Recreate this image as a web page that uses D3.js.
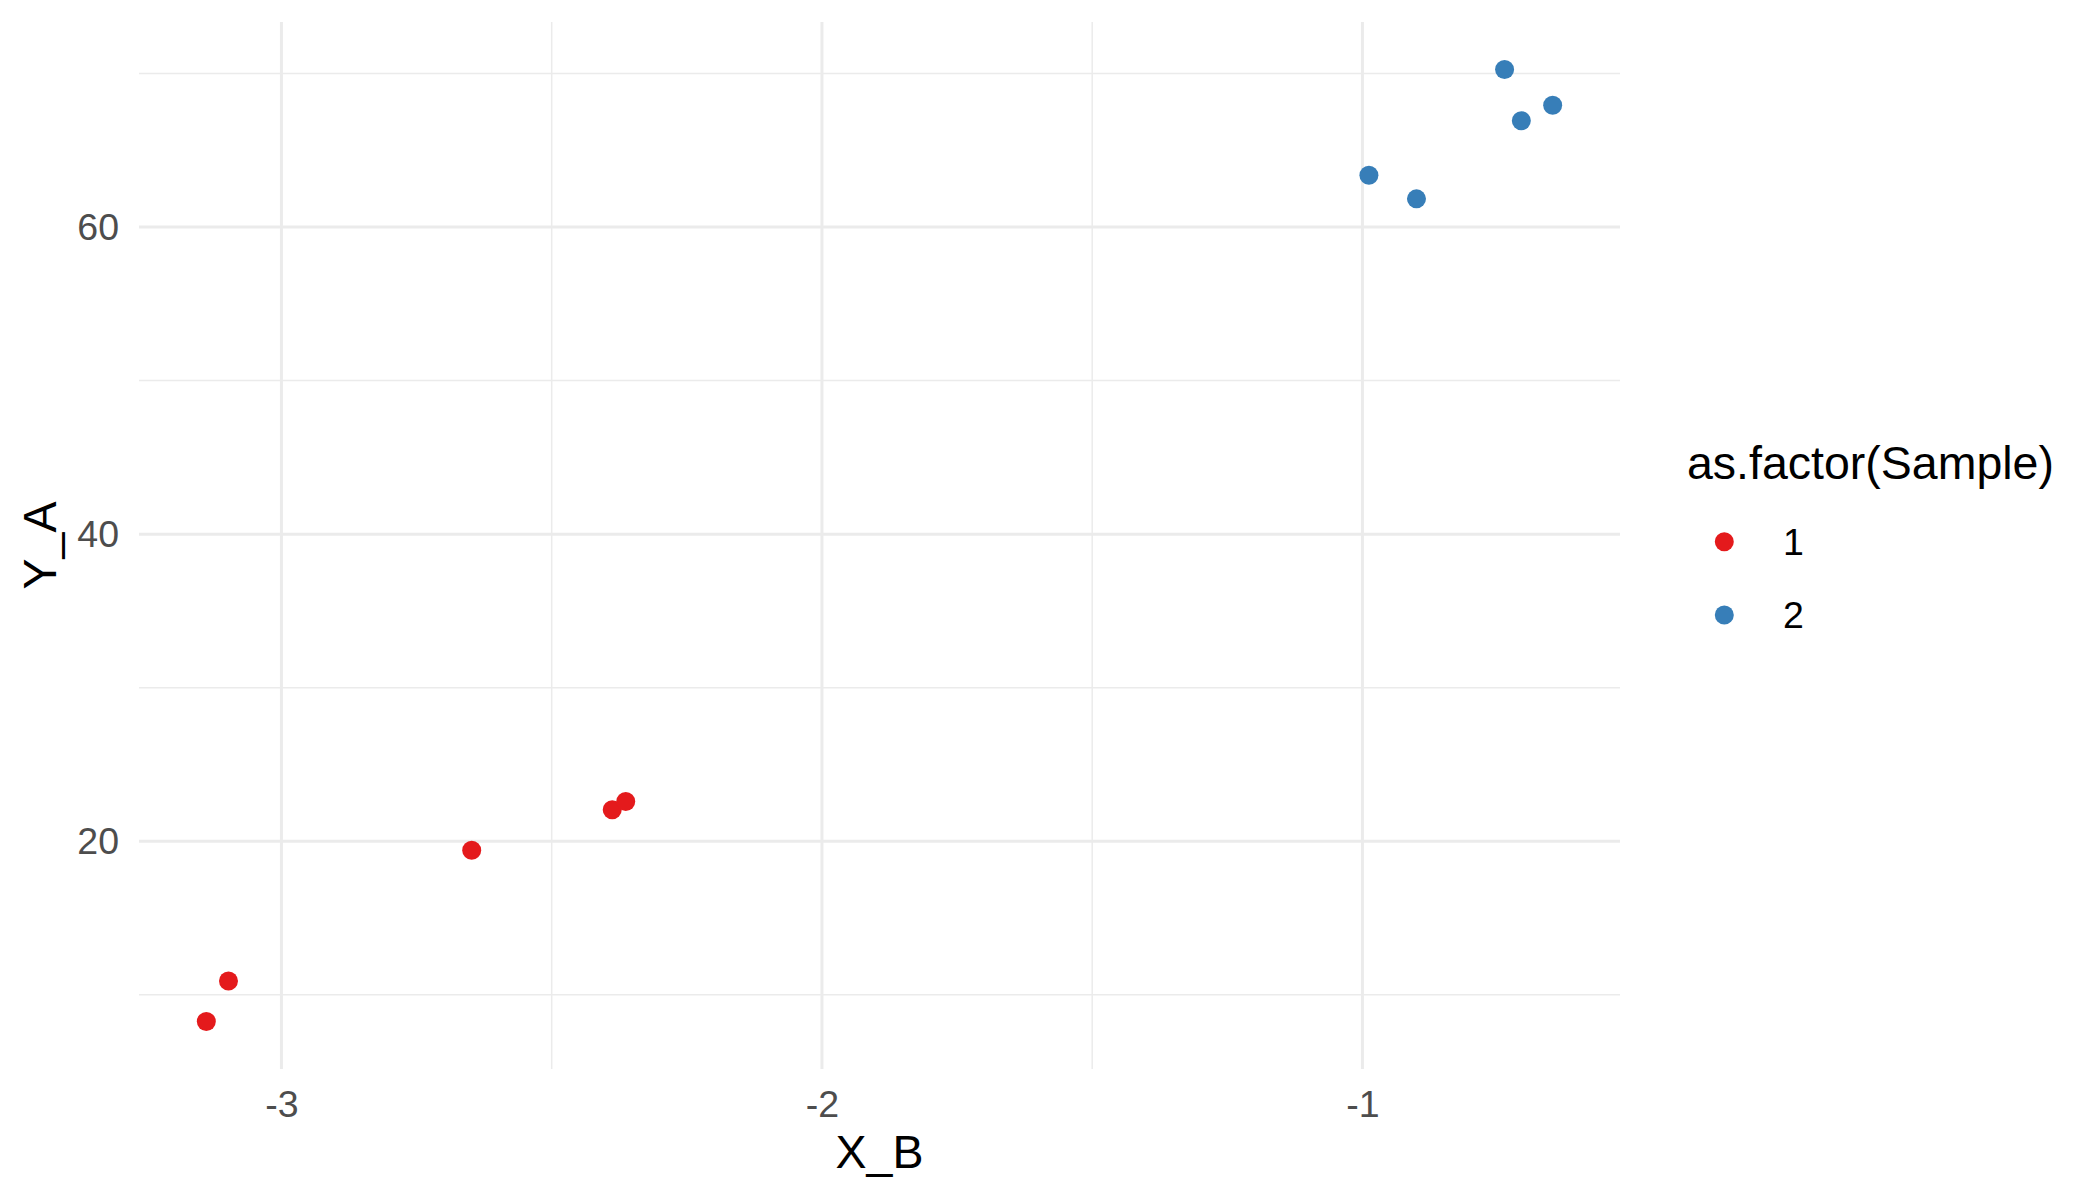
<!DOCTYPE html>
<html><head><meta charset="utf-8">
<script src="https://cdn.jsdelivr.net/npm/d3@7"></script>
<style>body{margin:0;background:#fff}svg{display:block}text{font-family:"Liberation Sans",Arial,sans-serif}</style>
</head><body>
<script>
const xB = [-3.139, -3.098, -2.648, -2.388, -2.363, -0.737, -0.648, -0.706, -0.988, -0.900];
const yA = [8.26, 10.89, 19.41, 22.05, 22.59, 70.26, 67.94, 66.93, 63.38, 61.84];
const sample = ["1","1","1","1","1","2","2","2","2","2"];
const groups = ["1","2"];
const colors = ["#E41A1C","#377EB8"];
const xMajor = [-3,-2,-1];
const xMinor = [-2.5,-1.5];
const yMajor = [20,40,60];
const yMinor = [10,30,50,70];

const W=2100,H=1200;
const P={l:139,r:1620,t:22,b:1069};
const AX=37.5, TT=46.5;
const svg=d3.select("body").append("svg").attr("width",W).attr("height",H);
const xe=d3.extent(xB), ye=d3.extent(yA);
const xp=(xe[1]-xe[0])*0.05, yp=(ye[1]-ye[0])*0.05;
const x=d3.scaleLinear().domain([xe[0]-xp,xe[1]+xp]).range([P.l,P.r]);
const y=d3.scaleLinear().domain([ye[0]-yp,ye[1]+yp]).range([P.b,P.t]);
const color=d3.scaleOrdinal().domain(groups).range(colors);
const fmt=d=>String(d);

const g=svg.append("g");
g.selectAll(".xmin").data(xMinor).join("line").attr("x1",d=>x(d)).attr("x2",d=>x(d)).attr("y1",P.t).attr("y2",P.b).attr("stroke","#EBEBEB").attr("stroke-width",1.5);
g.selectAll(".ymin").data(yMinor).join("line").attr("y1",d=>y(d)).attr("y2",d=>y(d)).attr("x1",P.l).attr("x2",P.r).attr("stroke","#EBEBEB").attr("stroke-width",1.5);
g.selectAll(".xmaj").data(xMajor).join("line").attr("x1",d=>x(d)).attr("x2",d=>x(d)).attr("y1",P.t).attr("y2",P.b).attr("stroke","#EBEBEB").attr("stroke-width",3);
g.selectAll(".ymaj").data(yMajor).join("line").attr("y1",d=>y(d)).attr("y2",d=>y(d)).attr("x1",P.l).attr("x2",P.r).attr("stroke","#EBEBEB").attr("stroke-width",3);

const xa=svg.append("g").attr("transform",`translate(0,${P.b})`).call(d3.axisBottom(x).tickValues(xMajor).tickSize(0).tickPadding(48).tickFormat(fmt));
const ya=svg.append("g").attr("transform",`translate(${P.l},0)`).call(d3.axisLeft(y).tickValues(yMajor).tickSize(0).tickPadding(20).tickFormat(fmt));
[xa,ya].forEach(a=>{a.select(".domain").remove();a.selectAll("text").attr("font-family","Liberation Sans, Arial, sans-serif").attr("font-size",AX).attr("fill","#4D4D4D");});
xa.selectAll("text").attr("dy","0");

svg.append("text").attr("x",(P.l+P.r)/2).attr("y",1168).attr("text-anchor","middle").attr("font-size",TT).attr("fill","#000").text("X_B");
svg.append("text").attr("transform",`translate(56,${(P.t+P.b)/2}) rotate(-90)`).attr("text-anchor","middle").attr("font-size",TT).attr("fill","#000").text("Y_A");

svg.append("g").selectAll("circle").data(xB.map((d,i)=>({x:d,y:yA[i],s:sample[i]}))).join("circle")
  .attr("cx",d=>x(d.x)).attr("cy",d=>y(d.y)).attr("r",9.5).attr("fill",d=>color(d.s));

const lg=svg.append("g");
lg.append("text").attr("x",1687).attr("y",479).attr("font-size",TT).attr("fill","#000").text("as.factor(Sample)");
const items=lg.selectAll("g").data(groups).join("g").attr("transform",(d,i)=>`translate(0,${541.7+i*73.3})`);
items.append("circle").attr("cx",1724.3).attr("cy",0).attr("r",9.5).attr("fill",d=>color(d));
items.append("text").attr("x",1783).attr("y",13.4).attr("font-size",AX).attr("fill","#000").text(d=>d);
</script>
</body></html>
